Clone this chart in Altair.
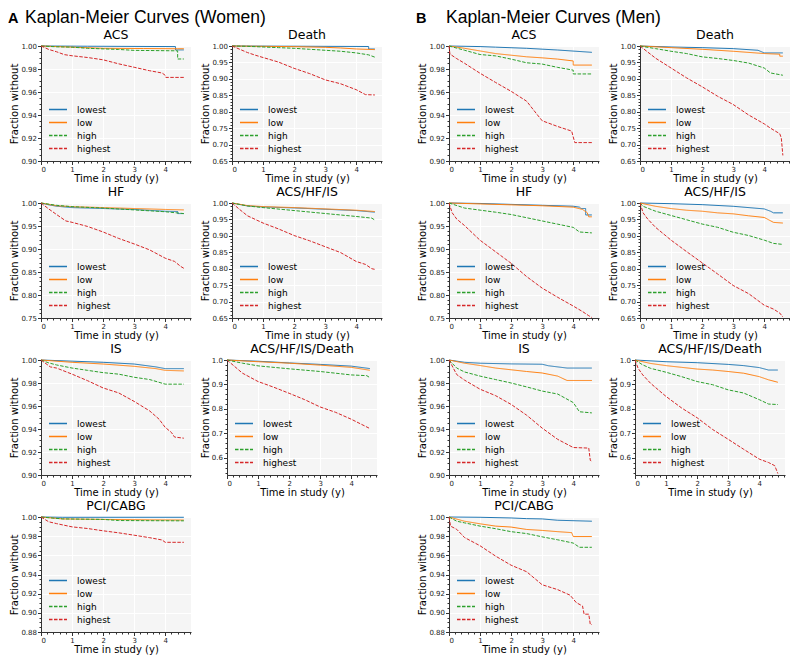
import altair as alt
import numpy as np
import pandas as pd

GROUPS = ["lowest", "low", "high", "highest"]
COLORS = ["#1f77b4", "#ff7f0e", "#2ca02c", "#d62728"]
DASHES = [[1, 0], [1, 0], [3.5, 1.5], [3.5, 1.5]]
X_TICKS = [0, 1, 2, 3, 4]
X_MAX = 4.83

Y_02 = [0.90, 0.92, 0.94, 0.96, 0.98, 1.00]
Y_02B = [0.88, 0.90, 0.92, 0.94, 0.96, 0.98, 1.00]
Y_05A = [0.65, 0.70, 0.75, 0.80, 0.85, 0.90, 0.95, 1.00]
Y_05B = [0.75, 0.80, 0.85, 0.90, 0.95, 1.00]
Y_10 = [0.6, 0.7, 0.8, 0.9, 1.0]

# ---------------- Women ----------------
W_ACS_LOWEST = [(0, 1.0), (1.5, 0.9998), (4.33, 0.9995), (4.33, 0.9966), (4.6, 0.9966)]
W_ACS_LOW = [(0, 1.0), (0.5, 0.9995), (1, 0.999), (2, 0.998), (3.3, 0.9978), (4.4, 0.9976), (4.6, 0.9976)]
W_ACS_HIGH = [(0, 1.0), (0.5, 0.9993), (1, 0.999), (1.5, 0.998), (2, 0.9975), (2.5, 0.997), (3, 0.9962),
              (4.4, 0.9958), (4.4, 0.9887), (4.6, 0.9887)]
W_ACS_HIGHEST = [(0, 1.0), (0.25, 0.997), (0.5, 0.995), (0.75, 0.9925), (1, 0.9915), (1.5, 0.990), (2, 0.988),
                 (2.5, 0.9845), (3, 0.9815), (3.5, 0.9785), (3.9, 0.9765), (4.0, 0.9745), (4.02, 0.9727), (4.6, 0.9727)]

W_DEATH_LOWEST = [(0, 1.0), (4.4, 0.9985), (4.4, 0.991), (4.6, 0.991)]
W_DEATH_LOW = [(0, 1.0), (1, 0.999), (2, 0.998), (3, 0.996), (3.5, 0.994), (4, 0.991), (4.6, 0.989)]
W_DEATH_HIGH = [(0, 1.0), (0.5, 0.999), (1, 0.997), (1.5, 0.995), (2, 0.993), (2.5, 0.990), (3, 0.987),
                (3.5, 0.984), (4, 0.979), (4.4, 0.973), (4.6, 0.966)]
W_DEATH_HIGHEST = [(0, 1.0), (0.25, 0.99), (0.5, 0.980), (0.75, 0.972), (1, 0.965), (1.5, 0.951), (2, 0.932),
                   (2.5, 0.916), (3, 0.897), (3.5, 0.885), (4, 0.867), (4.3, 0.852), (4.6, 0.851)]

W_HF_LOWEST = [(0, 1.0), (0.25, 0.996), (0.5, 0.993), (1, 0.990), (2, 0.988), (3, 0.986), (4, 0.982),
               (4.4, 0.9815), (4.4, 0.977), (4.6, 0.977)]
W_HF_LOW = [(0, 1.0), (0.5, 0.994), (1, 0.992), (2, 0.990), (3, 0.988), (4, 0.986), (4.6, 0.985)]
W_HF_HIGH = [(0, 1.0), (0.5, 0.995), (1, 0.992), (2, 0.989), (3, 0.985), (4, 0.981), (4.6, 0.977)]
W_HF_HIGHEST = [(0, 1.0), (0.25, 0.987), (0.5, 0.975), (0.8, 0.961), (1, 0.958), (1.5, 0.949), (2, 0.937),
                (2.5, 0.923), (3, 0.911), (3.5, 0.898), (4, 0.880), (4.3, 0.873), (4.5, 0.862), (4.6, 0.858)]

W_AHI_LOWEST = [(0, 1.0), (0.5, 0.991), (1, 0.988), (2, 0.985), (3, 0.981), (4, 0.977), (4.6, 0.972)]
W_AHI_LOW = [(0, 1.0), (0.5, 0.992), (1, 0.989), (2, 0.986), (3, 0.982), (4, 0.978), (4.6, 0.974)]
W_AHI_HIGH = [(0, 1.0), (0.5, 0.991), (1, 0.986), (2, 0.977), (3, 0.968), (4, 0.959), (4.5, 0.954), (4.6, 0.948)]
W_AHI_HIGHEST = [(0, 1.0), (0.25, 0.98), (0.5, 0.961), (1, 0.939), (1.5, 0.921), (2, 0.901), (2.5, 0.885),
                 (3, 0.867), (3.5, 0.849), (4, 0.822), (4.3, 0.813), (4.5, 0.800), (4.6, 0.798)]

W_IS_LOWEST = [(0, 1.0), (1, 0.999), (2, 0.998), (3, 0.9965), (3.7, 0.994), (4, 0.9925), (4.6, 0.9925)]
W_IS_LOW = [(0, 1.0), (1, 0.998), (2, 0.9965), (3, 0.9945), (3.7, 0.9925), (4, 0.991), (4.6, 0.9905)]
W_IS_HIGH = [(0, 1.0), (0.25, 0.9975), (0.5, 0.9957), (1, 0.993), (1.5, 0.991), (2, 0.989), (2.5, 0.9877),
             (3, 0.985), (3.5, 0.983), (4, 0.979), (4.6, 0.979)]
W_IS_HIGHEST = [(0, 1.0), (0.3, 0.994), (0.5, 0.993), (1, 0.9877), (1.5, 0.982), (2, 0.9757), (2.5, 0.9714),
                (3, 0.964), (3.5, 0.9557), (3.8, 0.9486), (4, 0.9414), (4.2, 0.937), (4.3, 0.933), (4.6, 0.932)]

W_AHID_LOWEST = [(0, 1.0), (1, 0.995), (2, 0.988), (3, 0.982), (4, 0.975), (4.6, 0.965)]
W_AHID_LOW = [(0, 1.0), (1, 0.993), (2, 0.987), (3, 0.979), (4, 0.970), (4.6, 0.958)]
W_AHID_HIGH = [(0, 1.0), (0.5, 0.987), (1, 0.976), (2, 0.964), (3, 0.953), (4, 0.939), (4.5, 0.936), (4.6, 0.928)]
W_AHID_HIGHEST = [(0, 1.0), (0.5, 0.946), (1, 0.912), (1.5, 0.889), (2, 0.864), (2.5, 0.838), (3, 0.808),
                  (3.5, 0.786), (4, 0.758), (4.3, 0.739), (4.6, 0.720)]

W_PCI_LOWEST = [(0, 1.0), (0.7, 0.9997), (4.6, 0.9997)]
W_PCI_LOW = [(0, 1.0), (0.7, 0.998), (2, 0.9975), (3.5, 0.997), (4.6, 0.9968)]
W_PCI_HIGH = [(0, 1.0), (0.7, 0.998), (2, 0.9975), (2.5, 0.9963), (4.6, 0.996)]
W_PCI_HIGHEST = [(0, 1.0), (0.25, 0.995), (0.5, 0.9931), (1, 0.9897), (1.5, 0.988), (2, 0.9856), (2.5, 0.9835),
                 (3, 0.981), (3.5, 0.9784), (3.9, 0.976), (4, 0.9736), (4.6, 0.9736)]

# ---------------- Men ----------------
M_ACS_LOWEST = [(0, 1.0), (1, 0.9995), (1.5, 0.999), (2.5, 0.998), (3.5, 0.9965), (4.6, 0.9945)]
M_ACS_LOW = [(0, 1.0), (0.5, 0.998), (1, 0.9957), (1.5, 0.9934), (2, 0.992), (2.5, 0.9906), (3, 0.9897),
             (3.5, 0.9886), (4, 0.987), (4, 0.9834), (4.6, 0.9834)]
M_ACS_HIGH = [(0, 1.0), (0.5, 0.9963), (1, 0.9926), (1.5, 0.9914), (2, 0.9886), (2.5, 0.9854), (3, 0.9843),
              (3.5, 0.9814), (4, 0.979), (4, 0.9757), (4.6, 0.9757)]
M_ACS_HIGHEST = [(0, 1.0), (0.03, 0.993), (0.25, 0.989), (0.5, 0.985), (0.75, 0.9806), (1, 0.9763), (1.5, 0.9683),
                 (2, 0.9606), (2.5, 0.952), (2.85, 0.940), (3, 0.935), (3.5, 0.930), (3.95, 0.926), (4.05, 0.916),
                 (4.6, 0.916)]

M_DEATH_LOWEST = [(0, 1.0), (1, 0.997), (2, 0.995), (3, 0.992), (3.8, 0.987), (4, 0.979), (4.6, 0.979)]
M_DEATH_LOW = [(0, 1.0), (1, 0.995), (2, 0.990), (3, 0.984), (4, 0.977), (4.5, 0.975), (4.5, 0.969), (4.6, 0.969)]
M_DEATH_HIGH = [(0, 1.0), (0.5, 0.992), (1, 0.984), (1.5, 0.977), (2, 0.967), (2.5, 0.962), (3, 0.956),
                (3.5, 0.948), (4, 0.933), (4.2, 0.918), (4.6, 0.911)]
M_DEATH_HIGHEST = [(0, 1.0), (0.5, 0.963), (1, 0.933), (1.5, 0.903), (2, 0.876), (2.5, 0.847), (3, 0.822),
                   (3.5, 0.790), (4, 0.763), (4.2, 0.750), (4.5, 0.733), (4.55, 0.720), (4.6, 0.667)]

M_HF_LOWEST = [(0, 1.0), (1, 0.999), (2, 0.997), (3, 0.995), (4, 0.993), (4.2, 0.991), (4.25, 0.988),
               (4.4, 0.988), (4.4, 0.974), (4.6, 0.974)]
M_HF_LOW = [(0, 1.0), (1, 0.998), (2, 0.996), (3, 0.994), (4, 0.991), (4.3, 0.986), (4.45, 0.979),
            (4.5, 0.970), (4.6, 0.970)]
M_HF_HIGH = [(0, 1.0), (0.5, 0.989), (1, 0.9845), (1.5, 0.980), (2, 0.975), (2.5, 0.968), (3, 0.961),
             (3.5, 0.954), (4, 0.947), (4.2, 0.937), (4.6, 0.935)]
M_HF_HIGHEST = [(0, 1.0), (0.1, 0.979), (0.25, 0.965), (0.5, 0.951), (1, 0.919), (1.5, 0.894), (2, 0.869),
                (2.5, 0.840), (3, 0.815), (3.5, 0.795), (4, 0.776), (4.3, 0.764), (4.5, 0.755), (4.6, 0.751)]

M_AHI_LOWEST = [(0, 1.0), (1, 0.998), (2, 0.995), (3, 0.990), (4, 0.982), (4.2, 0.975), (4.3, 0.970), (4.6, 0.970)]
M_AHI_LOW = [(0, 1.0), (0.5, 0.990), (1, 0.983), (1.5, 0.978), (2, 0.975), (2.5, 0.970), (3, 0.967),
             (3.5, 0.961), (4, 0.956), (4.3, 0.941), (4.6, 0.939)]
M_AHI_HIGH = [(0, 1.0), (0.1, 0.990), (0.5, 0.975), (1, 0.962), (1.5, 0.949), (2, 0.936), (2.5, 0.926),
              (3, 0.911), (3.5, 0.901), (4, 0.887), (4.3, 0.877), (4.6, 0.874)]
M_AHI_HIGHEST = [(0, 1.0), (0.1, 0.970), (0.25, 0.951), (0.5, 0.926), (1, 0.887), (1.5, 0.852), (2, 0.818),
                 (2.5, 0.784), (3, 0.749), (3.5, 0.724), (4, 0.689), (4.3, 0.677), (4.5, 0.665), (4.6, 0.653)]

M_IS_LOWEST = [(0, 1.0), (0.5, 0.998), (1, 0.9972), (2, 0.9966), (3, 0.9963), (3.2, 0.995), (3.8, 0.993), (4.6, 0.993)]
M_IS_LOW = [(0, 1.0), (0.5, 0.9972), (1, 0.9952), (1.5, 0.993), (2, 0.9915), (2.5, 0.990), (3, 0.9887),
            (3.5, 0.986), (3.8, 0.9822), (4.6, 0.9822)]
M_IS_HIGH = [(0, 1.0), (0.25, 0.993), (0.5, 0.9896), (1, 0.986), (1.5, 0.983), (2, 0.980), (2.5, 0.9766),
             (3, 0.973), (3.5, 0.9704), (4, 0.963), (4.2, 0.955), (4.6, 0.954)]
M_IS_HIGHEST = [(0, 1.0), (0.25, 0.9873), (0.5, 0.9825), (1, 0.9746), (1.5, 0.969), (2, 0.9614), (2.5, 0.952),
                (3, 0.9408), (3.5, 0.931), (4, 0.9239), (4.5, 0.9234), (4.55, 0.9127), (4.6, 0.912)]

M_AHID_LOWEST = [(0, 1.0), (1, 0.993), (2, 0.989), (3, 0.982), (3.5, 0.977), (4, 0.969), (4.3, 0.959), (4.6, 0.959)]
M_AHID_LOW = [(0, 1.0), (0.5, 0.986), (1, 0.977), (1.5, 0.970), (2, 0.963), (2.5, 0.959), (3, 0.953),
              (3.5, 0.946), (4, 0.932), (4.3, 0.919), (4.6, 0.909)]
M_AHID_HIGH = [(0, 1.0), (0.25, 0.980), (0.5, 0.966), (1, 0.950), (1.5, 0.932), (2, 0.912), (2.5, 0.899),
               (3, 0.878), (3.5, 0.865), (4, 0.838), (4.3, 0.820), (4.6, 0.818)]
M_AHID_HIGHEST = [(0, 1.0), (0.1, 0.966), (0.25, 0.939), (0.5, 0.905), (1, 0.851), (1.5, 0.804), (2, 0.764),
                  (2.5, 0.716), (3, 0.676), (3.5, 0.635), (4, 0.595), (4.3, 0.581), (4.5, 0.568), (4.6, 0.536)]

M_PCI_LOWEST = [(0, 1.0), (1, 0.9997), (2, 0.999), (2.5, 0.9983), (3, 0.998), (3.5, 0.9966), (4.6, 0.9956)]
M_PCI_LOW = [(0, 1.0), (0.5, 0.9956), (1, 0.9929), (1.5, 0.9905), (2, 0.9895), (2.5, 0.987), (3, 0.986),
             (3.5, 0.9847), (3.95, 0.9837), (4, 0.9796), (4.6, 0.9796)]
M_PCI_HIGH = [(0, 1.0), (0.25, 0.9956), (0.5, 0.9939), (1, 0.9905), (1.5, 0.9878), (2, 0.9847), (2.5, 0.9827),
              (3, 0.9793), (3.5, 0.9762), (4, 0.9728), (4.2, 0.9684), (4.6, 0.9684)]
M_PCI_HIGHEST = [(0, 1.0), (0.05, 0.9905), (0.25, 0.9871), (0.5, 0.9786), (1, 0.970), (1.5, 0.9592), (2, 0.9497),
                 (2.5, 0.9429), (3, 0.9293), (3.5, 0.9242), (3.9, 0.9184), (4.1, 0.9106), (4.3, 0.9071),
                 (4.35, 0.8986), (4.5, 0.8986), (4.55, 0.8878), (4.6, 0.8878)]

W = 150
H = 115

LEG = alt.Legend(title=None, orient="bottom-left", offset=7, padding=0,
                 labelFont="DejaVu Sans", labelFontSize=9, labelColor="black",
                 symbolType="M-1,0H3", symbolSize=81, symbolStrokeWidth=1.5,
                 labelOffset=18, rowPadding=2)

X_MINOR = [round(v, 2) for v in np.arange(0, 4.81, 0.2)]


def minor_ticks(lo, major):
    step = major / (4 if round(major / 0.02) == 1 else 5)
    n = int(round((1.0 - lo) / step))
    return [round(1.0 - k * step, 4) for k in range(n + 1) if 1.0 - k * step >= lo - 1e-9]


def panel(title, curves, ydom, yticks, yfmt):
    rows = []
    for g, pts in zip(GROUPS, curves):
        for i, (t, s) in enumerate(pts):
            rows.append({"t": t, "s": s, "group": g, "order": i})
    df = pd.DataFrame(rows)
    major = round(yticks[1] - yticks[0], 4)
    lines = alt.Chart(df).mark_line(strokeWidth=1).encode(
        x=alt.X("t:Q", scale=alt.Scale(domain=[0, X_MAX], nice=False, zero=False),
                axis=alt.Axis(values=X_TICKS, format="d", title="Time in study (y)")),
        y=alt.Y("s:Q", scale=alt.Scale(domain=list(ydom), nice=False, zero=False),
                axis=alt.Axis(values=yticks, format=yfmt, title="Fraction without")),
        color=alt.Color("group:N", scale=alt.Scale(domain=GROUPS, range=COLORS), legend=LEG),
        strokeDash=alt.StrokeDash("group:N", scale=alt.Scale(domain=GROUPS, range=DASHES), legend=LEG),
        order="order:Q",
    )
    minor = alt.Chart(df).mark_point(opacity=0, size=1).encode(
        x=alt.X("t:Q", axis=alt.Axis(values=X_MINOR, labels=False, domain=False, grid=False,
                                     tickSize=2, title=None, orient="bottom")),
        y=alt.Y("s:Q", axis=alt.Axis(values=minor_ticks(ydom[0], major), labels=False, domain=False,
                                     grid=False, tickSize=2, title=None, orient="left")),
    )
    return alt.layer(lines, minor).resolve_axis(x="independent", y="independent").properties(
        width=W, height=H, title=title,
        view=alt.ViewBackground(fill="#f5f5f5", stroke=None))


def header(letter, text, xa, xt):
    base = alt.Chart(pd.DataFrame({"k": [0]}))
    a = base.mark_text(font="Liberation Sans", fontSize=14.5, fontWeight="bold", align="left",
                       baseline="alphabetic", color="black").encode(
        x=alt.value(xa), y=alt.value(15), text=alt.value(letter))
    b = base.mark_text(font="Liberation Sans", fontSize=17.5, align="left",
                       baseline="alphabetic", color="black").encode(
        x=alt.value(xt), y=alt.value(15), text=alt.value(text))
    return alt.layer(a, b).properties(width=300, height=16)


RES = dict(color="independent", strokeDash="independent")


def block(letter, text, xa, xt, p):
    rows = [
        alt.hconcat(p[0], p[1], spacing=9).resolve_scale(**RES),
        alt.hconcat(p[2], p[3], spacing=9).resolve_scale(**RES),
        alt.hconcat(p[4], p[5], spacing=9).resolve_scale(**RES),
        p[6],
    ]
    return alt.vconcat(header(letter, text, xa, xt), *rows, spacing=1).resolve_scale(**RES)


women = [
    panel("ACS", [W_ACS_LOWEST, W_ACS_LOW, W_ACS_HIGH, W_ACS_HIGHEST], (0.90, 1.0), Y_02, ".2f"),
    panel("Death", [W_DEATH_LOWEST, W_DEATH_LOW, W_DEATH_HIGH, W_DEATH_HIGHEST], (0.65, 1.0), Y_05A, ".2f"),
    panel("HF", [W_HF_LOWEST, W_HF_LOW, W_HF_HIGH, W_HF_HIGHEST], (0.75, 1.0), Y_05B, ".2f"),
    panel("ACS/HF/IS", [W_AHI_LOWEST, W_AHI_LOW, W_AHI_HIGH, W_AHI_HIGHEST], (0.65, 1.0), Y_05A, ".2f"),
    panel("IS", [W_IS_LOWEST, W_IS_LOW, W_IS_HIGH, W_IS_HIGHEST], (0.90, 1.0), Y_02, ".2f"),
    panel("ACS/HF/IS/Death", [W_AHID_LOWEST, W_AHID_LOW, W_AHID_HIGH, W_AHID_HIGHEST], (0.53, 1.0), Y_10, ".1f"),
    panel("PCI/CABG", [W_PCI_LOWEST, W_PCI_LOW, W_PCI_HIGH, W_PCI_HIGHEST], (0.88, 1.0), Y_02B, ".2f"),
]
men = [
    panel("ACS", [M_ACS_LOWEST, M_ACS_LOW, M_ACS_HIGH, M_ACS_HIGHEST], (0.90, 1.0), Y_02, ".2f"),
    panel("Death", [M_DEATH_LOWEST, M_DEATH_LOW, M_DEATH_HIGH, M_DEATH_HIGHEST], (0.65, 1.0), Y_05A, ".2f"),
    panel("HF", [M_HF_LOWEST, M_HF_LOW, M_HF_HIGH, M_HF_HIGHEST], (0.75, 1.0), Y_05B, ".2f"),
    panel("ACS/HF/IS", [M_AHI_LOWEST, M_AHI_LOW, M_AHI_HIGH, M_AHI_HIGHEST], (0.65, 1.0), Y_05A, ".2f"),
    panel("IS", [M_IS_LOWEST, M_IS_LOW, M_IS_HIGH, M_IS_HIGHEST], (0.90, 1.0), Y_02, ".2f"),
    panel("ACS/HF/IS/Death", [M_AHID_LOWEST, M_AHID_LOW, M_AHID_HIGH, M_AHID_HIGHEST], (0.53, 1.0), Y_10, ".1f"),
    panel("PCI/CABG", [M_PCI_LOWEST, M_PCI_LOW, M_PCI_HIGH, M_PCI_HIGHEST], (0.88, 1.0), Y_02B, ".2f"),
]

chart = alt.hconcat(
    block("A", "Kaplan-Meier Curves (Women)", -33, -16, women),
    block("B", "Kaplan-Meier Curves (Men)", -33, -3, men),
    spacing=34,
).resolve_scale(**RES).properties(
    padding=0, background="white"
).configure_view(stroke=None).configure_axis(
    labelFont="DejaVu Sans", labelFontSize=7, labelColor="#222",
    titleFont="DejaVu Sans", titleFontSize=10, titleFontWeight="normal", titleColor="black",
    domainColor="#333", tickColor="#333", tickSize=3.5, labelPadding=1, titlePadding=1,
    gridColor="white", gridWidth=1,
).configure_title(
    font="DejaVu Sans", fontSize=12.5, fontWeight="normal", color="black", offset=1
)

chart.save("out.html", embed_options={"renderer": "svg", "actions": False})
